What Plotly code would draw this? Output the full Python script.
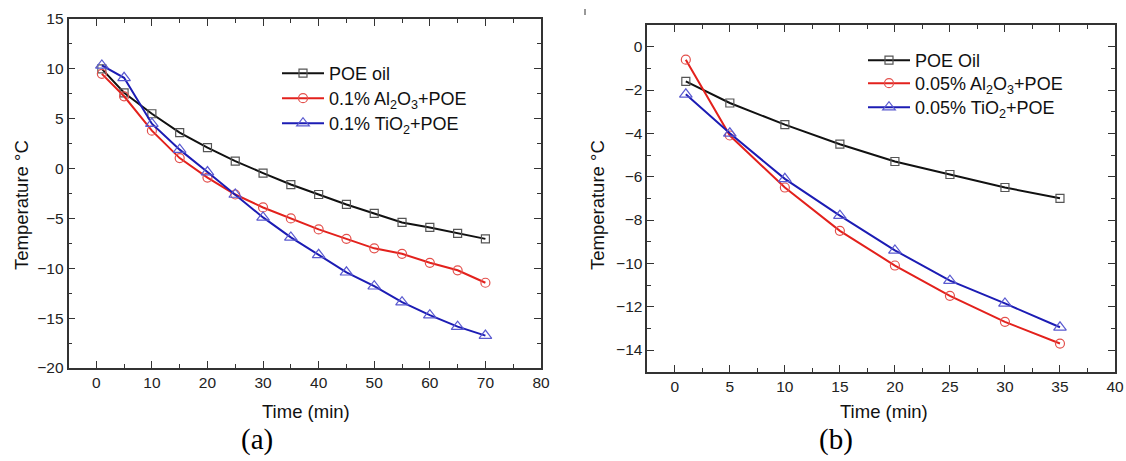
import plotly.graph_objects as go

# ---- data (a) ----
time_a = [1, 5, 10, 15, 20, 25, 30, 35, 40, 45, 50, 55, 60, 65, 70]
poe_a = [10.0, 7.6, 5.5, 3.6, 2.1, 0.75, -0.45, -1.6, -2.6, -3.6, -4.5, -5.4, -5.9, -6.5, -7.05]
al_a = [9.5, 7.25, 3.8, 1.05, -0.9, -2.6, -3.9, -5.0, -6.1, -7.05, -8.0, -8.55, -9.45, -10.2, -11.45]
ti_a = [10.35, 9.1, 4.5, 1.9, -0.35, -2.6, -4.9, -6.9, -8.65, -10.4, -11.8, -13.4, -14.7, -15.85, -16.75]
names_a = ["POE oil", "0.1% Al<sub>2</sub>O<sub>3</sub>+POE", "0.1% TiO<sub>2</sub>+POE"]

# ---- data (b) ----
time_b = [1, 5, 10, 15, 20, 25, 30, 35]
poe_b = [-1.6, -2.6, -3.6, -4.5, -5.3, -5.9, -6.5, -7.0]
al_b = [-0.6, -4.1, -6.5, -8.5, -10.1, -11.5, -12.7, -13.7]
ti_b = [-2.2, -4.0, -6.1, -7.8, -9.4, -10.8, -11.85, -12.95]
names_b = ["POE Oil", "0.05% Al<sub>2</sub>O<sub>3</sub>+POE", "0.05% TiO<sub>2</sub>+POE"]

colors = ["#111111", "#e3211c", "#1c1cb4"]
mcolors = ["#555555", "#e3504c", "#5a5ad0"]
symbols = ["square-open", "circle-open", "triangle-up-open"]
msizes = [8, 9, 11]

W, H = 1126, 461
FONT = "Liberation Sans"
SERIF = "Liberation Serif"

fig = go.Figure()

def add_series(xs, ys, name, i, xa, ya, legend):
    fig.add_trace(go.Scatter(
        x=xs, y=ys, name=name, mode="lines+markers",
        line=dict(color=colors[i], width=2),
        marker=dict(symbol=symbols[i], size=msizes[i], color=mcolors[i],
                    line=dict(width=1.2, color=mcolors[i])),
        xaxis=xa, yaxis=ya, legend=legend,
    ))

legend_ids_a = ["legend", "legend2", "legend3"]
legend_ids_b = ["legend4", "legend5", "legend6"]
for i, ys in enumerate([poe_a, al_a, ti_a]):
    add_series(time_a, ys, names_a[i], i, "x", "y", legend_ids_a[i])
for i, ys in enumerate([poe_b, al_b, ti_b]):
    add_series(time_b, ys, names_b[i], i, "x2", "y2", legend_ids_b[i])

def px_x(p):
    return p / W

def px_y(p):
    return 1 - p / H

axis_common = dict(
    showline=True, linecolor="#333333", linewidth=1.6, mirror="ticks",
    ticks="inside", ticklen=7, tickwidth=1.4, tickcolor="#333333",
    showgrid=False, zeroline=False, automargin=False,
    tickfont=dict(family=FONT, size=15.5, color="#222222"),
)

minor_common = dict(ticks="inside", ticklen=4, tick0=0, tickcolor="#333333", tickwidth=1.2)

def legend_box(xpx, row_center_px):
    return dict(x=px_x(xpx), y=px_y(row_center_px - 17), xanchor="left", yanchor="top",
                bgcolor="rgba(0,0,0,0)", borderwidth=0,
                font=dict(family=FONT, size=18, color="#111111"),
                tracegroupgap=0, itemwidth=42)

layout_legends = {}
for lid, rc in zip(legend_ids_a, [72, 97, 122]):
    layout_legends[lid] = legend_box(277, rc)
for lid, rc in zip(legend_ids_b, [59, 82, 106]):
    layout_legends[lid] = legend_box(863, rc)

fig.update_layout(
    template="none",
    width=W, height=H, autosize=False,
    margin=dict(l=0, r=0, t=0, b=0, pad=0, autoexpand=False),
    paper_bgcolor="white", plot_bgcolor="white",
    font=dict(family=FONT, color="#222222"),
    xaxis=dict(domain=[px_x(68.5), px_x(541)], range=[-5, 80], tick0=0, dtick=10,
               minor=dict(dtick=5, **minor_common), anchor="y", **axis_common),
    yaxis=dict(domain=[px_y(368), px_y(19)], range=[-20, 15], tick0=0, dtick=5,
               minor=dict(dtick=2.5, **minor_common), anchor="x", **axis_common),
    xaxis2=dict(domain=[px_x(647.3), px_x(1115)], range=[-2.5, 40], tick0=0, dtick=5,
                minor=dict(dtick=2.5, **minor_common), anchor="y2", **axis_common),
    yaxis2=dict(domain=[px_y(371.7), px_y(25)], range=[-15, 1], tick0=0, dtick=2,
                minor=dict(dtick=1, **minor_common), anchor="x2", **axis_common),
    showlegend=True,
    **layout_legends,
)

annots = [
    dict(text="Time (min)", x=px_x(306), y=px_y(411.7), font=dict(family=FONT, size=18.5, color="#111111")),
    dict(text="Time (min)", x=px_x(883.7), y=px_y(411.7), font=dict(family=FONT, size=18.5, color="#111111")),
    dict(text="Temperature \u00b0C", x=px_x(21), y=px_y(205), textangle=-90,
         font=dict(family=FONT, size=18.5, color="#111111")),
    dict(text="Temperature \u00b0C", x=px_x(597), y=px_y(205), textangle=-90,
         font=dict(family=FONT, size=18.5, color="#111111")),
    dict(text="(a)", x=px_x(257), y=px_y(439),
         font=dict(family=SERIF, size=29, color="#000000")),
    dict(text="(b)", x=px_x(836), y=px_y(439),
         font=dict(family=SERIF, size=29, color="#000000")),
]
for a in annots:
    fig.add_annotation(xref="paper", yref="paper", showarrow=False,
                       xanchor="center", yanchor="middle", **a)

# small stray mark near the top of panel (b)
fig.add_shape(type="line", xref="paper", yref="paper",
              x0=px_x(585), x1=px_x(585), y0=px_y(9), y1=px_y(15),
              line=dict(color="#333333", width=1))

fig.write_html("out.html", config={"displayModeBar": False},
               post_script="document.body.style.margin='0px';document.body.style.overflow='hidden';")
